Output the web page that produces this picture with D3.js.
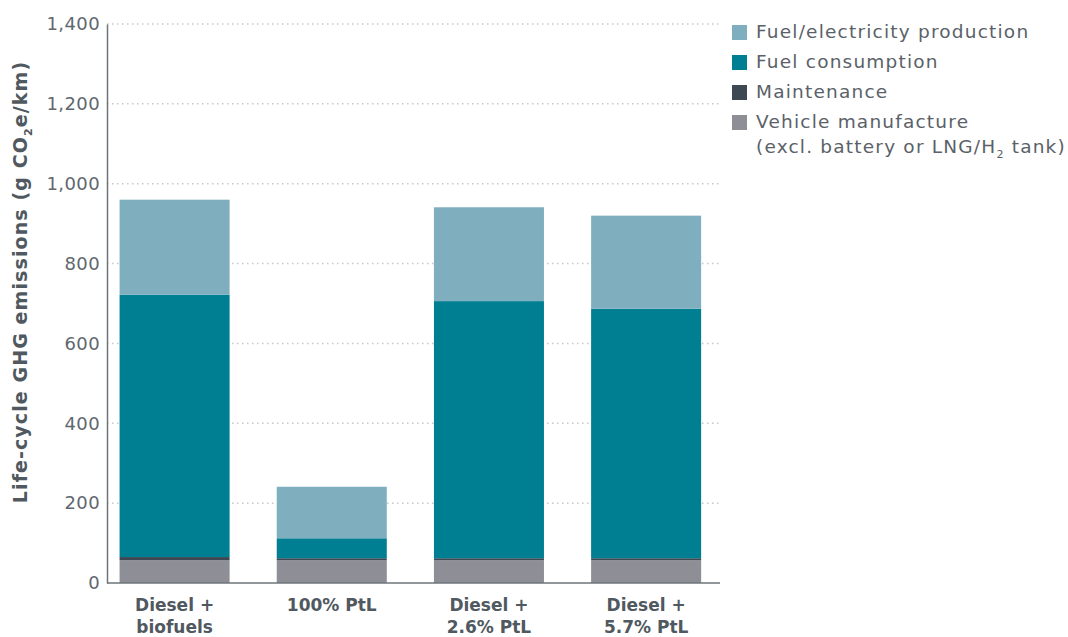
<!DOCTYPE html>
<html>
<head>
<meta charset="utf-8">
<script src="https://cdn.jsdelivr.net/npm/d3@7"></script>
<style>
  body { margin: 0; background: #fff; }
  svg text { font-family: "DejaVu Sans", "Noto Sans", sans-serif; fill: #505860; }
</style>
</head>
<body>
<div class="chart"></div>
<script>
// Data (g CO2e/km)
var categories = ["Diesel +\nbiofuels", "100% PtL", "Diesel +\n2.6% PtL", "Diesel +\n5.7% PtL"];
var vehicleManufacture = [57, 57, 57, 57];
var maintenance = [8, 5, 5, 5];
var fuelConsumption = [657, 50, 644, 625];
var fuelProduction = [238, 129, 235, 233];
var yTicks = [0, 200, 400, 600, 800, 1000, 1200, 1400];

var seriesKeys = ["vehicle", "maintenance", "consumption", "production"];
var seriesColors = {
    vehicle: "#8e8e97",
    maintenance: "#3e4852",
    consumption: "#007e92",
    production: "#7fafbe"
};

var svgWidth = 1068, svgHeight = 637;
var margin = { top: 24, right: 348, bottom: 54, left: 107 };
var width = svgWidth - margin.left - margin.right;
var height = svgHeight - margin.top - margin.bottom;

var svg = d3.select(".chart")
    .append("svg")
    .attr("width", svgWidth)
    .attr("height", svgHeight);

var chart = svg.append("g")
    .attr("transform", "translate(" + margin.left + "," + margin.top + ")");

// build rows for the stack
var rows = categories.map(function (c, i) {
    return {
        cat: c,
        vehicle: vehicleManufacture[i],
        maintenance: maintenance[i],
        consumption: fuelConsumption[i],
        production: fuelProduction[i]
    };
});

var xScale = d3.scaleBand()
    .domain(categories)
    .range([0, width])
    .paddingInner(0.3)
    .paddingOuter(0.1)
    .align(0.4);

var yScale = d3.scaleLinear().domain([0, 1400]).range([height, 0]);

// dotted grid lines
chart.append("g")
    .selectAll("line")
    .data(yTicks.slice(1))
    .enter()
    .append("line")
    .attr("x1", 0)
    .attr("x2", width)
    .attr("y1", function (d) { return yScale(d); })
    .attr("y2", function (d) { return yScale(d); })
    .attr("stroke", "#c8c8c8")
    .attr("stroke-width", 1.5)
    .attr("stroke-dasharray", "1.5,3.5");

var stacked = d3.stack().keys(seriesKeys)(rows);

chart.selectAll(".series")
    .data(stacked)
    .enter()
    .append("g")
    .attr("fill", function (d) { return seriesColors[d.key]; })
    .selectAll("rect")
    .data(function (d) { return d; })
    .enter()
    .append("rect")
    .attr("x", function (d) { return xScale(d.data.cat); })
    .attr("width", xScale.bandwidth())
    .attr("y", function (d) { return yScale(d[1]); })
    .attr("height", function (d) { return yScale(d[0]) - yScale(d[1]); });

// y axis
var leftAxis = d3.axisLeft(yScale)
    .tickValues(yTicks)
    .tickSize(0)
    .tickPadding(7)
    .tickFormat(d3.format(","));

var yAxis = chart.append("g").call(leftAxis);
yAxis.select(".domain").attr("stroke", "#6e747a").attr("stroke-width", 1.5);
yAxis.selectAll("text")
    .style("font-family", "'DejaVu Sans', sans-serif")
    .style("font-size", "18px")
    .style("letter-spacing", "0.4px")
    .style("fill", "#60676e");

// x axis line
chart.append("line")
    .attr("x1", 0)
    .attr("x2", width)
    .attr("y1", height)
    .attr("y2", height)
    .attr("stroke", "#6e747a")
    .attr("stroke-width", 1.5);

// x labels (two lines)
var xLabels = chart.append("g")
    .selectAll("text")
    .data(categories)
    .enter()
    .append("text")
    .attr("text-anchor", "middle")
    .attr("x", function (d) { return xScale(d) + xScale.bandwidth() / 2; })
    .attr("y", height + 28)
    .style("font-size", "17px")
    .style("font-weight", "bold");

xLabels.each(function (d) {
    var t = d3.select(this);
    d.split("\n").forEach(function (line, i) {
        t.append("tspan")
            .attr("x", xScale(d) + xScale.bandwidth() / 2)
            .attr("dy", i === 0 ? 0 : 22)
            .text(line);
    });
});

// y axis title
var yTitle = chart.append("text")
    .attr("transform", "rotate(-90)")
    .attr("x", -258)
    .attr("y", -margin.left + 27)
    .attr("text-anchor", "middle")
    .style("font-size", "19px")
    .style("font-weight", "bold")
    .style("letter-spacing", "1.1px");
yTitle.append("tspan").text("Life-cycle GHG emissions (g CO");
yTitle.append("tspan").attr("dy", 5).style("font-size", "11px").text("2");
yTitle.append("tspan").attr("dy", -5).text("e/km)");

// legend
var legendItems = [
    { key: "production", label: ["Fuel/electricity production"] },
    { key: "consumption", label: ["Fuel consumption"] },
    { key: "maintenance", label: ["Maintenance"] },
    { key: "vehicle", label: ["Vehicle manufacture", "(excl. battery or LNG/H", "2", " tank)"] }
];

var legend = svg.append("g").attr("transform", "translate(732,20)");

legendItems.forEach(function (item, i) {
    var g = legend.append("g").attr("transform", "translate(0," + (i * 30) + ")");
    g.append("rect")
        .attr("x", 0)
        .attr("y", 5)
        .attr("width", 15)
        .attr("height", 15)
        .attr("fill", seriesColors[item.key]);
    var t = g.append("text")
        .attr("x", 24)
        .attr("y", 18)
        .style("font-size", "18.5px")
        .style("letter-spacing", "1.2px")
        .style("fill", "#5a6168");
    t.append("tspan").text(item.label[0]);
    if (item.label.length > 1) {
        t.append("tspan").attr("x", 24).attr("dy", 25).text(item.label[1]);
        t.append("tspan").attr("dy", 5).style("font-size", "11px").text(item.label[2]);
        t.append("tspan").attr("dy", -5).text(item.label[3]);
    }
});
</script>
</body>
</html>
